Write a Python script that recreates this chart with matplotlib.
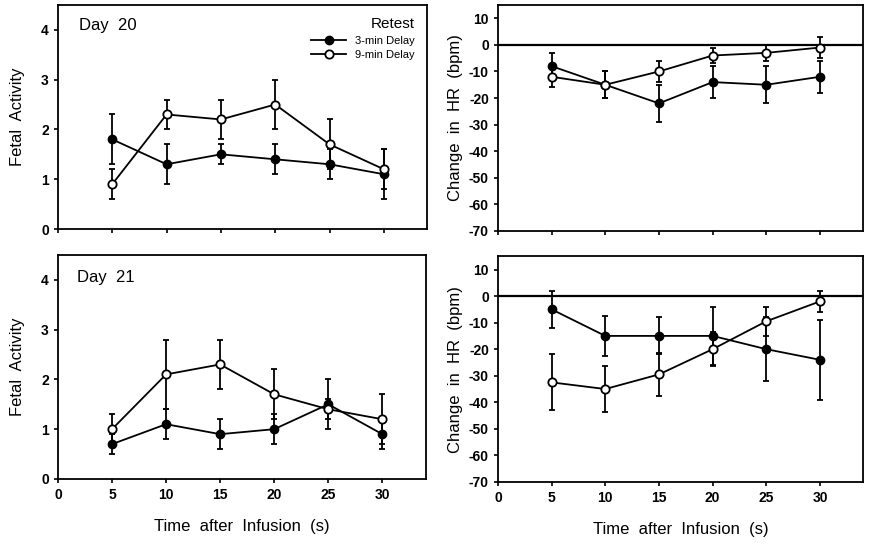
import numpy as np
from matplotlib import pyplot as plt

plt.rcParams['font.family'] = ['Liberation Sans', 'DejaVu Sans']
plt.rcParams['axes.unicode_minus'] = False

# time points (s)
times = [5, 10, 15, 20, 25, 30]

# Day 20 - fetal activity
d20_act_3 = [1.8, 1.3, 1.5, 1.4, 1.3, 1.1]
d20_act_3_err = [0.5, 0.4, 0.2, 0.3, 0.3, 0.5]
d20_act_9 = [0.9, 2.3, 2.2, 2.5, 1.7, 1.2]
d20_act_9_err = [0.3, 0.3, 0.4, 0.5, 0.5, 0.4]

# Day 20 - change in HR
d20_hr_3 = [-8, -15, -22, -14, -15, -12]
d20_hr_3_err = [5, 5, 7, 6, 7, 6]
d20_hr_9 = [-12, -15, -10, -4, -3, -1]
d20_hr_9_err = [4, 5, 4, 3, 3, 4]

# Day 21 - fetal activity
d21_act_3 = [0.7, 1.1, 0.9, 1.0, 1.5, 0.9]
d21_act_3_err = [0.2, 0.3, 0.3, 0.3, 0.5, 0.3]
d21_act_9 = [1.0, 2.1, 2.3, 1.7, 1.4, 1.2]
d21_act_9_err = [0.3, 0.7, 0.5, 0.5, 0.2, 0.5]

# Day 21 - change in HR
d21_hr_3 = [-5, -15, -15, -15, -20, -24]
d21_hr_3_err = [7, 7.5, 7, 11, 12, 15]
d21_hr_9 = [-32.5, -35, -29.5, -20, -9.5, -2]
d21_hr_9_err = [10.5, 8.5, 8, 6.5, 5.5, 4]

fig = plt.figure(figsize=(8.69, 5.44), dpi=100)

ax_a20 = fig.add_axes([0.0667, 0.579, 0.425, 0.412])
ax_h20 = fig.add_axes([0.573, 0.5754, 0.420, 0.4154])
ax_a21 = fig.add_axes([0.0667, 0.1195, 0.423, 0.412])
ax_h21 = fig.add_axes([0.573, 0.114, 0.420, 0.415])


def draw(ax, y3, e3, y9, e9):
    a = ax.errorbar(times, y3, yerr=e3, color='black', lw=1.3, marker='o', ms=6,
                    mfc='black', mec='black', capsize=2.5, elinewidth=1.3,
                    capthick=1.3, zorder=3)
    b = ax.errorbar(times, y9, yerr=e9, color='black', lw=1.3, marker='o', ms=6,
                    mfc='white', mec='black', mew=1.3, capsize=2.5, elinewidth=1.3,
                    capthick=1.3, zorder=4)
    ax.set_xlim(0, 34)
    ax.set_xticks([0, 5, 10, 15, 20, 25, 30])
    for s in ax.spines.values():
        s.set_linewidth(1.3)
    ax.tick_params(direction='out', length=3, width=1.2, labelsize=10)
    return a[0], b[0]


def style_activity(ax):
    ax.set_ylim(0, 4.5)
    ax.set_yticks([0, 1, 2, 3, 4])
    ax.set_ylabel('Fetal  Activity', fontsize=12, labelpad=12)


def style_hr(ax):
    ax.set_ylim(-70, 15)
    ax.set_yticks(np.arange(-70, 11, 10))
    ax.axhline(0, color='black', lw=1.6, zorder=2)
    ax.set_ylabel('Change  in  HR  (bpm)', fontsize=12, labelpad=4)


h3, h9 = draw(ax_a20, d20_act_3, d20_act_3_err, d20_act_9, d20_act_9_err)
style_activity(ax_a20)
draw(ax_h20, d20_hr_3, d20_hr_3_err, d20_hr_9, d20_hr_9_err)
style_hr(ax_h20)
draw(ax_a21, d21_act_3, d21_act_3_err, d21_act_9, d21_act_9_err)
style_activity(ax_a21)
draw(ax_h21, d21_hr_3, d21_hr_3_err, d21_hr_9, d21_hr_9_err)
style_hr(ax_h21)

for ax in [ax_a20, ax_h20, ax_a21, ax_h21]:
    for lbl in ax.get_xticklabels() + ax.get_yticklabels():
        lbl.set_fontweight('bold')

ax_a20.tick_params(labelbottom=False)
ax_h20.tick_params(labelbottom=False)
for ax in [ax_a21, ax_h21]:
    ax.set_xlabel('Time  after  Infusion  (s)', fontsize=12, labelpad=12)

ax_a20.text(0.057, 0.91, 'Day  20', transform=ax_a20.transAxes, fontsize=12,
            va='center')
ax_a21.text(0.052, 0.90, 'Day  21', transform=ax_a21.transAxes, fontsize=12,
            va='center')

leg = ax_a20.legend([h3, h9], ['3-min Delay', '9-min Delay'],
                    loc='upper right', bbox_to_anchor=(0.985, 0.975),
                    title='Retest', frameon=False, fontsize=8,
                    title_fontsize=11, handlelength=3.2, borderaxespad=0.2,
                    labelspacing=0.4)
leg._legend_box.align = 'right'

plt.savefig('out.png', dpi=100)
